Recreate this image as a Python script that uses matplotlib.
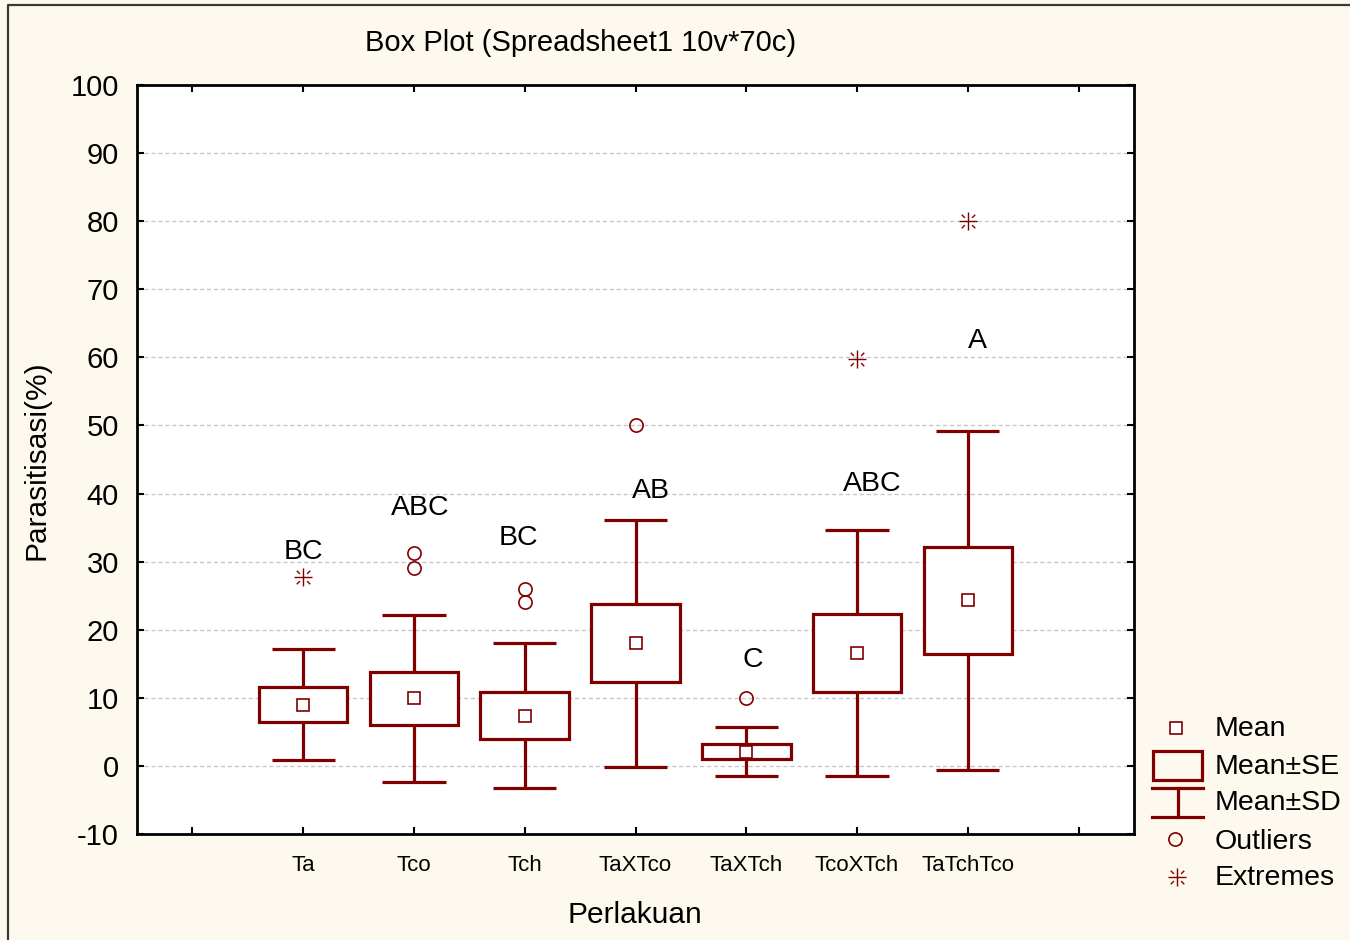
import matplotlib
matplotlib.use("Agg")
import matplotlib.pyplot as plt
from matplotlib.patches import Rectangle
from matplotlib.lines import Line2D
from matplotlib.path import Path

plt.rcParams['font.family'] = ['Liberation Sans', 'DejaVu Sans']

# ---- data ----
categories = ["Ta", "Tco", "Tch", "TaXTco", "TaXTch", "TcoXTch", "TaTchTco"]
means = [9.0, 9.9, 7.4, 18.0, 2.1, 16.6, 24.3]
se = [2.6, 3.9, 3.4, 5.75, 1.15, 5.75, 7.85]
sd = [8.15, 12.25, 10.6, 18.1, 3.6, 18.1, 24.9]
outliers_x = [1, 1, 2, 2, 3, 4]
outliers_y = [31.2, 29.1, 26.0, 24.1, 50.0, 10.0]
extremes_x = [0, 5, 6]
extremes_y = [27.8, 59.8, 80.0]
letters = ["BC", "ABC", "BC", "AB", "C", "ABC", "A"]
letter_x = [0.0, 1.06, 1.94, 3.14, 4.06, 5.14, 6.09]
letter_y = [31.4, 37.9, 33.5, 40.4, 15.6, 41.4, 62.4]
yticks = [-10, 0, 10, 20, 30, 40, 50, 60, 70, 80, 90, 100]

RED = "#800000"
BG = "#fdf9ee"

# asterisk marker: full plus, diagonal dashes only on outer part
d1, d2 = 0.4, 0.75
verts = [(-1, 0), (1, 0), (0, -1), (0, 1),
         (d1, d1), (d2, d2), (-d1, -d1), (-d2, -d2),
         (d1, -d1), (d2, -d2), (-d1, d1), (-d2, d2)]
codes = [Path.MOVETO, Path.LINETO] * 6
star = Path(verts, codes)

fig = plt.figure(figsize=(13.5, 9.4), dpi=100, facecolor=BG)
ax = fig.add_axes([137/1350, 1-834/940, (1134-137)/1350, (834-85)/940])
ax.set_facecolor("white")

ax.set_xlim(-1.5, 7.5)
ax.set_ylim(-10, 100)

lw = 2.3
for i, (m, s, d) in enumerate(zip(means, se, sd)):
    ax.add_patch(Rectangle((i - 0.4, m - s), 0.8, 2 * s, facecolor="white",
                           edgecolor=RED, lw=lw, zorder=3))
    ax.vlines(i, m + s, m + d, color=RED, lw=lw, zorder=3)
    ax.vlines(i, m - d, m - s, color=RED, lw=lw, zorder=3)
    ax.hlines([m + d, m - d], i - 0.285, i + 0.285, color=RED, lw=lw, zorder=3)
ax.plot(range(len(means)), means, ls="none", marker="s", ms=8.5, mfc="white",
        mec=RED, mew=1.2, zorder=4)
ax.plot(outliers_x, outliers_y, ls="none", marker="o", ms=9.5, mfc="none",
        mec=RED, mew=1.2, zorder=4)
ax.plot(extremes_x, extremes_y, ls="none", marker=star, ms=13,
        mec=RED, mew=1.0, zorder=4)

for lx, ly, t in zip(letter_x, letter_y, letters):
    ax.text(lx, ly, t, ha="center", va="center", fontsize=20.5, color="black", zorder=5)

ax.set_xticks(range(-1, 8))
ax.set_xticklabels([""] + categories + [""], fontsize=16)
ax.set_yticks(yticks)
ax.set_yticklabels([str(v) for v in yticks], fontsize=21)
ax.tick_params(axis="both", direction="in", length=5, width=1.5, top=True, right=True,
               colors="black")
ax.tick_params(axis="x", pad=15)
ax.tick_params(axis="y", pad=13)
ax.grid(axis="y", color="#c8c8c8", ls=(0, (3, 2)), lw=1.0)
ax.set_axisbelow(True)
for sp in ax.spines.values():
    sp.set_linewidth(2.0)
    sp.set_color("black")

# ---- overlay for frame, title, labels, legend (figure pixel coords) ----
ov = fig.add_axes([0, 0, 1, 1], facecolor="none")
ov.set_xlim(0, 1350)
ov.set_ylim(940, 0)
ov.axis("off")
ov.add_line(Line2D([8, 8, 1350], [940, 5, 5], color="#3a3a3a", lw=1.6))

ov.text(581, 43, "Box Plot (Spreadsheet1 10v*70c)", ha="center", va="center", fontsize=21)
ov.text(635, 915, "Perlakuan", ha="center", va="center", fontsize=21.5)
ov.text(37, 460, "Parasitisasi(%)", ha="center", va="center", rotation=90, fontsize=21.5)

# legend
ov.plot([1176], [728], ls="none", marker="s", ms=8.5, mfc="white", mec=RED, mew=1.2)
ov.add_patch(Rectangle((1153, 751), 49, 29, fill=False, edgecolor=RED, lw=lw))
ov.add_line(Line2D([1152, 1203], [788, 788], color=RED, lw=lw))
ov.add_line(Line2D([1152, 1203], [817, 817], color=RED, lw=lw))
ov.add_line(Line2D([1177.5, 1177.5], [788, 817], color=RED, lw=lw))
ov.plot([1175], [839], ls="none", marker="o", ms=9.5, mfc="none", mec=RED, mew=1.2)
ov.plot([1177], [877], ls="none", marker=star, ms=13, mec=RED, mew=1.0)
for yy, t in zip([729, 767, 803, 842, 878],
                 ["Mean", "Mean±SE", "Mean±SD", "Outliers", "Extremes"]):
    ov.text(1215, yy, t, ha="left", va="center", fontsize=20.5)

fig.savefig("out.png", dpi=100, facecolor=BG)
